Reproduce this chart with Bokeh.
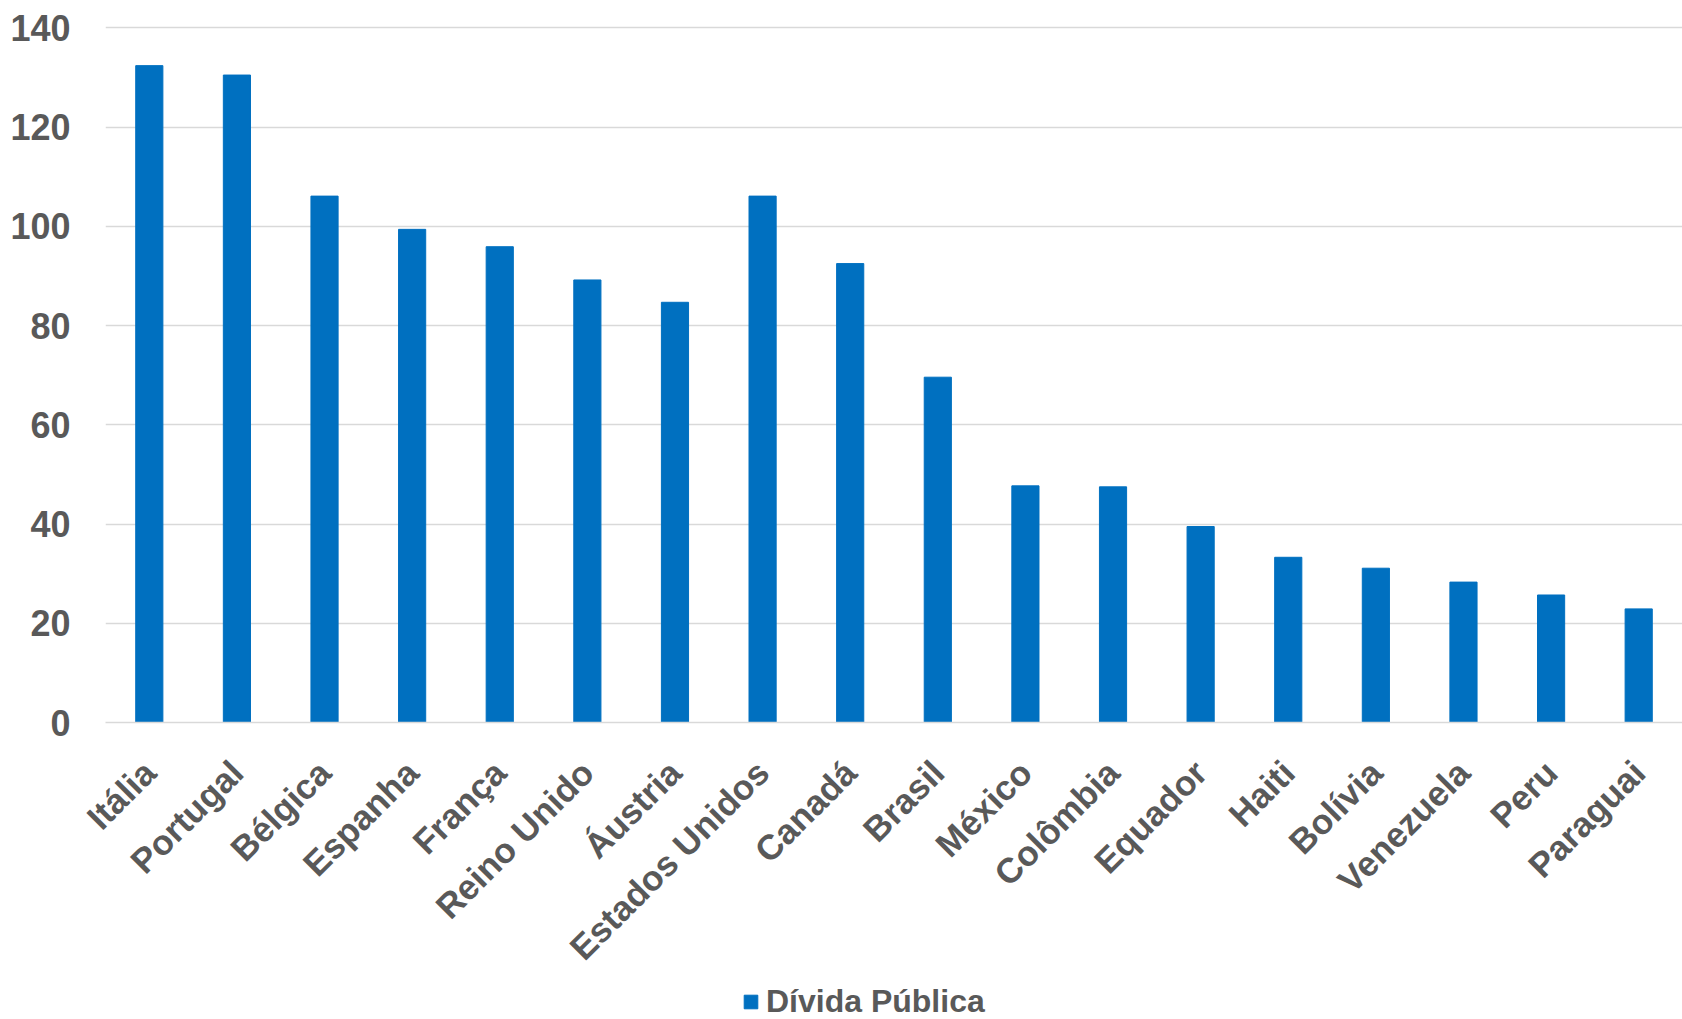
from bokeh.plotting import figure
from bokeh.models import Range1d, Legend, LegendItem
from bokeh.layouts import column
from bokeh.embed import file_html
from bokeh.resources import INLINE
from math import pi

countries = ["Itália", "Portugal", "Bélgica", "Espanha", "França", "Reino Unido",
             "Áustria", "Estados Unidos", "Canadá", "Brasil", "México", "Colômbia",
             "Equador", "Haiti", "Bolívia", "Venezuela", "Peru", "Paraguai"]
divida = [132.4, 130.5, 106.1, 99.4, 95.9, 89.2, 84.7, 106.1, 92.5, 69.6,
          47.7, 47.5, 39.5, 33.3, 31.1, 28.3, 25.7, 22.9]
y_ticks = [0, 20, 40, 60, 80, 100, 120, 140]
series_name = "Dívida Pública"

FONT = "Liberation Sans"
GREY = "#595959"
BLUE = "#0070C0"
GRID = "#d9d9d9"

p = figure(x_range=countries, y_range=Range1d(0, 141.9), width=1682, height=984,
           output_backend="svg", toolbar_location=None,
           min_border_left=105, min_border_right=0, min_border_top=18, min_border_bottom=262)
p.outline_line_color = None

r = p.vbar(x=countries, top=divida, width=0.31, fill_color=BLUE, line_color=BLUE)

p.xgrid.grid_line_color = None
p.ygrid.grid_line_color = GRID
p.ygrid.grid_line_width = 1.5
p.yaxis.ticker = y_ticks

p.yaxis.axis_line_color = None
p.yaxis.major_tick_line_color = None
p.yaxis.minor_tick_line_color = None
p.yaxis.major_label_text_font = FONT
p.yaxis.major_label_text_font_style = "bold"
p.yaxis.major_label_text_font_size = "36px"
p.yaxis.major_label_text_color = GREY
p.yaxis.major_label_standoff = 29

p.xaxis.axis_line_color = GRID
p.xaxis.axis_line_width = 1.5
p.xaxis.major_tick_line_color = None
p.xaxis.minor_tick_line_color = None
p.xaxis.major_label_orientation = pi / 4
p.xaxis.major_label_text_font = FONT
p.xaxis.major_label_text_font_style = "bold"
p.xaxis.major_label_text_font_size = "35px"
p.xaxis.major_label_text_color = GREY
p.xaxis.major_label_standoff = 38

# legend strip below the chart (frame aligned with the main chart's frame)
lf = figure(width=1682, height=35, x_range=Range1d(0, 1), y_range=Range1d(0, 1),
            output_backend="svg", toolbar_location=None,
            min_border_left=105, min_border_right=0, min_border_top=0, min_border_bottom=0)
lf.axis.visible = False
lf.grid.visible = False
lf.outline_line_color = None
lf.background_fill_alpha = 0
dummy = lf.vbar(x=[-10], top=[-10], width=0.31, fill_color=BLUE, line_color=BLUE)

legend = Legend(items=[LegendItem(label=series_name, renderers=[dummy])],
                location=(637, -1), orientation="horizontal")
legend.glyph_width = 17
legend.glyph_height = 17
legend.label_standoff = 7
legend.padding = 0
legend.margin = 0
legend.border_line_color = None
legend.background_fill_alpha = 0
legend.label_text_font = FONT
legend.label_text_font_style = "bold"
legend.label_text_font_size = "32px"
legend.label_text_color = GREY
lf.add_layout(legend, "center")

layout = column(p, lf, spacing=0)
open("out.html", "w").write(file_html(layout, INLINE))
